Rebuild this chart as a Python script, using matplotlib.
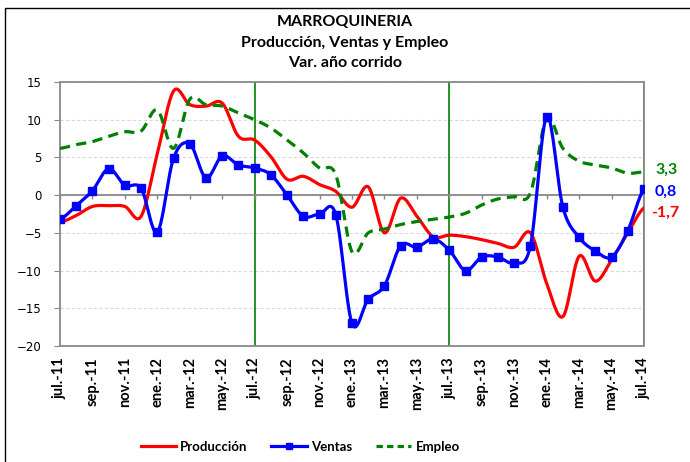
import numpy as np
import matplotlib.pyplot as plt
from matplotlib.lines import Line2D
from matplotlib.patches import Rectangle

# monthly values, jul-11 .. jul-14
meses = ['jul.', 'ago.', 'sep.', 'oct.', 'nov.', 'dic.', 'ene.', 'feb.',
         'mar.', 'abr.', 'may.', 'jun.']
etiquetas = [f'{meses[i % 12]}-{11 + (6 + i) // 12}' for i in range(37)]

produccion = [-3.6, -2.7, -1.5, -1.4, -1.5, -2.8, 5.5, 13.8, 12.0, 11.8, 12.2, 7.8,
              7.3, 5.1, 2.1, 2.5, 1.4, 0.5, -1.6, 1.1, -5.0, -0.4, -2.8, -5.5,
              -5.3, -5.5, -5.9, -6.4, -6.9, -5.0, -11.7, -16.1, -8.1, -11.4, -8.6, -5.0,
              -1.7]
ventas = [-3.2, -1.4, 0.6, 3.5, 1.3, 0.9, -4.9, 4.9, 6.8, 2.3, 5.2, 4.0,
          3.6, 2.7, 0.0, -2.8, -2.5, -2.6, -17.0, -13.8, -12.0, -6.7, -6.9, -5.8,
          -7.3, -10.0, -8.2, -8.2, -9.0, -6.7, 10.4, -1.6, -5.6, -7.4, -8.2, -4.7,
          0.8]
empleo = [6.2, 6.7, 7.1, 7.8, 8.4, 8.5, 11.3, 6.2, 12.7, 12.0, 11.8, 10.9,
          10.0, 8.9, 7.3, 5.6, 3.6, 2.7, -7.5, -5.0, -4.5, -3.9, -3.5, -3.2,
          -2.9, -2.4, -1.3, -0.5, -0.2, 0.3, 10.2, 6.2, 4.5, 4.0, 3.6, 2.9,
          3.1]
ultimos = ['-1,7', '0,8', '3,3']


def suavizar(y, n=24):
    # catmull-rom, similar to excel smoothed lines
    y = np.asarray(y, float)
    p = np.concatenate([[y[0]], y, [y[-1]]])
    xs, ys = [], []
    for i in range(len(y) - 1):
        p0, p1, p2, p3 = p[i], p[i + 1], p[i + 2], p[i + 3]
        t = np.linspace(0, 1, n, endpoint=False)
        ys.append(0.5 * (2 * p1 + (-p0 + p2) * t + (2 * p0 - 5 * p1 + 4 * p2 - p3) * t**2
                         + (-p0 + 3 * p1 - 3 * p2 + p3) * t**3))
        xs.append(i + t)
    xs.append([len(y) - 1])
    ys.append([y[-1]])
    return np.concatenate(xs), np.concatenate(ys)


x = np.arange(len(ventas))
gris = '#888888'

fig = plt.figure(figsize=(6.9, 4.62), dpi=100)
ax = fig.add_axes([60 / 690, 1 - 346 / 462, 584 / 690, 264 / 462])

fig.patches.append(Rectangle((5 / 690, -0.1), 1.2, 1 - 8 / 462 + 0.1,
                             transform=fig.transFigure, fill=False,
                             edgecolor='black', linewidth=1))

for v in [12, 24, 36]:
    ax.axvline(v, color='#008000', linewidth=1.2, zorder=1)

# zero line with the category ticks hanging below it
ticks = x[::2]
ax.axhline(0, color=gris, linewidth=1.3, zorder=1)
ax.vlines(ticks, -0.55, 0, color=gris, linewidth=1, zorder=1)

xs, ys = suavizar(produccion)
ax.plot(xs, ys, color='#FF0000', linewidth=2.3, zorder=3)
xs, ys = suavizar(empleo)
ax.plot(xs, ys, color='#008000', linewidth=2.3, dashes=(3.2, 2), zorder=3)
xs, ys = suavizar(ventas)
ax.plot(xs, ys, color='#0000FF', linewidth=2.3, zorder=4)
ax.plot(x, ventas, linestyle='none', marker='s', markersize=5.5,
        color='#0000FF', zorder=5)

ax.set_xlim(0, 36)
ax.set_ylim(-20, 15)
ax.set_yticks(np.arange(-20, 16, 5))
ax.yaxis.grid(True, linestyle=(0, (3, 2)), color='#d9d9d9', linewidth=0.8)
ax.set_axisbelow(True)
ax.tick_params(axis='y', direction='out', length=4, color=gris,
               labelsize=8.5, pad=9)
for s in ax.spines.values():
    s.set_color(gris)
    s.set_linewidth(1.3)

ax.set_xticks(ticks)
ax.set_xticklabels(etiquetas[::2], rotation=90, fontsize=10.5,
                   fontweight='bold', family='Lato')
ax.tick_params(axis='x', length=0, pad=8)

for texto, yy in zip(['MARROQUINERIA', 'Producción, Ventas y Empleo',
                      'Var. año corrido'], [22, 43, 63]):
    fig.text(0.5, 1 - yy / 462, texto, ha='center', va='center',
             fontsize=11.5, fontweight='bold', family='Lato')

for txt, yv, col in zip(ultimos, [213, 192, 170],
                        ['#FF0000', '#0000FF', '#008000']):
    fig.text(651 / 690 if txt.startswith('-') else 655 / 690, 1 - yv / 462,
             txt, color=col, fontsize=11.5, fontweight='bold', va='center',
             family='Lato')

handles = [Line2D([], [], color='#FF0000', linewidth=2.3),
           Line2D([], [], color='#0000FF', linewidth=2.3, marker='s',
                  markersize=5),
           Line2D([], [], color='#008000', linewidth=2.3, dashes=(2, 1.3))]
fig.legend(handles, ['Producción', 'Ventas', 'Empleo'], loc='center',
           bbox_to_anchor=(0.435, 1 - 447 / 462), ncol=3, frameon=False,
           prop={'family': 'Lato', 'weight': 'bold', 'size': 9.5},
           handlelength=2.7, columnspacing=1.8, handletextpad=0.3)

fig.savefig('out.png', dpi=100)
